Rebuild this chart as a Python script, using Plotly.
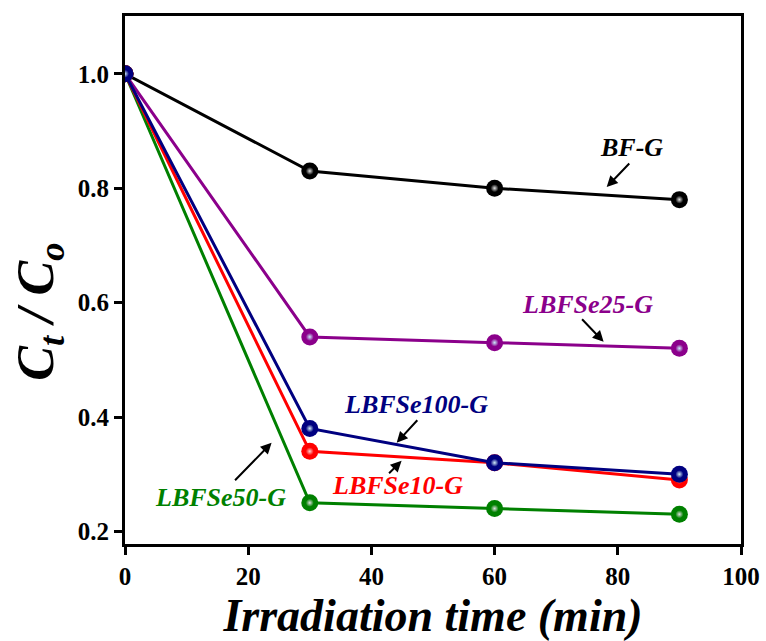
import plotly.graph_objects as go

time_min = [0, 30, 60, 90]
bf_g = [1.0, 0.83, 0.80, 0.78]
lbfse25_g = [1.0, 0.54, 0.53, 0.52]
lbfse50_g = [1.0, 0.25, 0.24, 0.23]
lbfse10_g = [1.0, 0.34, 0.32, 0.29]
lbfse100_g = [1.0, 0.38, 0.32, 0.30]

series = [
    ("BF-G", bf_g, "#000000", "#e0e0e0"),
    ("LBFSe25-G", lbfse25_g, "#8B008B", "#c8ecfa"),
    ("LBFSe50-G", lbfse50_g, "#008000", "#e0e0e0"),
    ("LBFSe10-G", lbfse10_g, "#FF0000", "#ffd0d0"),
    ("LBFSe100-G", lbfse100_g, "#000080", "#d0ecf8"),
]

FONT = "Liberation Serif"

fig = go.Figure()
for name, vals, col, hl in series:
    fig.add_trace(go.Scatter(
        x=time_min, y=vals, name=name, mode="lines+markers",
        line=dict(color=col, width=3),
        marker=dict(size=17, color=col, line=dict(width=0)),
        showlegend=False,
    ))
    fig.add_trace(go.Scatter(
        x=time_min, y=vals, mode="markers", hoverinfo="skip",
        marker=dict(size=8, color=col, line=dict(width=0),
                    gradient=dict(type="radial", color=hl)),
        showlegend=False,
    ))

# labels: (text, color, text_x, text_y, head_x, head_y, ax, ay)
labels = [
    ("BF-G", "#000000", 82.3, 0.872, 78.2, 0.802, 24, -25),
    ("LBFSe25-G", "#8B008B", 75.0, 0.596, 77.7, 0.5315, -23, -24),
    ("LBFSe100-G", "#000080", 47.2, 0.4213, 44.1, 0.355, 22, -24),
    ("LBFSe10-G", "#FF0000", 44.3, 0.2797, 44.9, 0.3234, -14, 14),
    ("LBFSe50-G", "#008000", 15.5, 0.2587, 23.8, 0.355, -38, 39),
]
for text, col, tx, ty, hx, hy, ax, ay in labels:
    fig.add_annotation(x=tx, y=ty, text=text, showarrow=False,
                       font=dict(family=FONT, size=26, color=col,
                                 weight="bold", style="italic"))
    fig.add_annotation(x=hx, y=hy, ax=ax, ay=ay, text="", showarrow=True,
                       arrowhead=2, arrowsize=1.1, arrowwidth=2,
                       arrowcolor="#000000", standoff=0, startstandoff=0)

# y-axis title as rotated text
fig.add_annotation(xref="paper", yref="paper", x=-0.138, y=0.44,
                   text="C<sub>t</sub> / C<sub>o</sub>", showarrow=False,
                   textangle=-90, xanchor="center", yanchor="middle",
                   font=dict(family=FONT, size=52, color="black",
                             weight="bold", style="italic"))

axis_common = dict(
    showline=True, linecolor="black", linewidth=3, mirror=True,
    ticks="outside", ticklen=8, tickwidth=3, tickcolor="black",
    showgrid=False, zeroline=False, automargin=False,
    tickfont=dict(family=FONT, size=25, color="black", weight="bold"),
)

fig.update_xaxes(range=[0, 100], dtick=20, tick0=0,
                 title=dict(text="Irradiation time (min)", standoff=16,
                            font=dict(family=FONT, size=46, color="black",
                                      weight="bold", style="italic")),
                 **axis_common)
fig.update_yaxes(range=[0.178, 1.101], dtick=0.2, tick0=0.2, tickformat=".1f",
                 **axis_common)

fig.update_layout(
    width=766, height=641,
    margin=dict(l=125, r=25, t=16, b=97),
    paper_bgcolor="white", plot_bgcolor="white",
)

fig.write_html("out.html")
